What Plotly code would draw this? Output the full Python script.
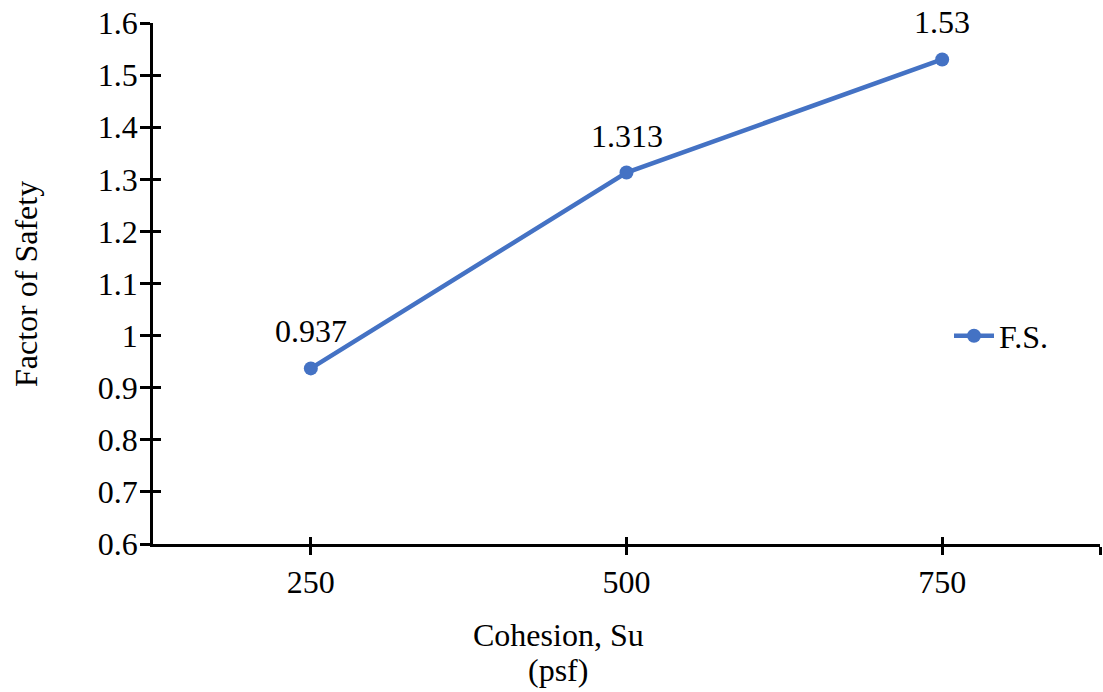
import plotly.graph_objects as go

cohesion = [250, 500, 750]
factor_of_safety = [0.937, 1.313, 1.53]
labels = ["0.937", "1.313", "1.53"]
series_name = "F.S."
x_tickvals = [250, 500, 750, 875]
x_ticktext = ["250", "500", "750", ""]
y_tickvals = [0.6, 0.7, 0.8, 0.9, 1.0, 1.1, 1.2, 1.3, 1.4, 1.5, 1.6]
y_ticktext = ["0.6", "0.7", "0.8", "0.9", "1", "1.1", "1.2", "1.3", "1.4", "1.5", "1.6"]

FONT = "Liberation Serif"
BLUE = "#4472C4"
FS = 32

fig = go.Figure()
fig.add_trace(go.Scatter(
    x=cohesion, y=factor_of_safety, name=series_name,
    mode="lines+markers",
    line=dict(color=BLUE, width=4.5),
    marker=dict(color=BLUE, size=14),
    hoverinfo="skip",
))
# invisible trace to carry the overlay axes (inner half of the cross ticks)
fig.add_trace(go.Scatter(
    x=cohesion, y=factor_of_safety, xaxis="x2", yaxis="y2",
    mode="markers", marker=dict(opacity=0), showlegend=False, hoverinfo="skip",
))

axis_common = dict(showgrid=False, zeroline=False, linecolor="black", linewidth=2.5,
                   tickcolor="black", tickwidth=2.5)
tick_only = {k: v for k, v in axis_common.items() if k not in ("linecolor", "linewidth")}

pw, ph = 1103 - 153 - 3, 692 - 23 - 148


def px_x(v):
    return (v - 153) / pw


def px_y(v):
    return (692 - 148 - v) / ph


title_font = dict(family=FONT, size=FS, color="black")
annotations = [
    dict(x=xv, y=yv, xref="x", yref="y", text=t, showarrow=False, yshift=37,
         font=title_font)
    for xv, yv, t in zip(cohesion, factor_of_safety, labels)
]
annotations += [
    dict(text="Cohesion, Su", x=px_x(558), y=px_y(635), xref="paper", yref="paper",
         xanchor="center", yanchor="middle", showarrow=False, font=title_font),
    dict(text="(psf)", x=px_x(558), y=px_y(670), xref="paper", yref="paper",
         xanchor="center", yanchor="middle", showarrow=False, font=title_font),
    dict(text="Factor of Safety", x=px_x(26), y=px_y(284), xref="paper", yref="paper",
         xanchor="center", yanchor="middle", textangle=-90, showarrow=False, font=title_font),
]

fig.update_layout(
    width=1103, height=692,
    margin=dict(l=153, r=3, t=23, b=148),
    paper_bgcolor="white", plot_bgcolor="white",
    font=dict(family=FONT, size=FS, color="black"),
    showlegend=True,
    legend=dict(x=px_x(949), y=px_y(336), xanchor="left", yanchor="middle",
                font=dict(family=FONT, size=FS, color="black"),
                bgcolor="rgba(0,0,0,0)", itemwidth=40),
    xaxis=dict(range=[125, 875], tickmode="array", tickvals=x_tickvals, ticktext=x_ticktext,
               ticks="outside", ticklen=8, showline=True, ticklabelstandoff=0,
               tickfont=dict(family=FONT, size=FS), **axis_common),
    yaxis=dict(range=[0.6, 1.6], tickmode="array", tickvals=y_tickvals, ticktext=y_ticktext,
               ticks="outside", ticklen=10, showline=True, ticklabelstandoff=-4,
               tickfont=dict(family=FONT, size=FS), **axis_common),
    xaxis2=dict(range=[125, 875], overlaying="x", anchor="y", side="bottom", tickmode="array",
                tickvals=x_tickvals, ticks="inside", ticklen=7, showticklabels=False,
                showline=False, **tick_only),
    yaxis2=dict(range=[0.6, 1.6], overlaying="y", anchor="x", side="left", tickmode="array",
                tickvals=y_tickvals, ticks="inside", ticklen=8, showticklabels=False,
                showline=False, **tick_only),
    annotations=annotations,
)
fig.write_html("out.html")
